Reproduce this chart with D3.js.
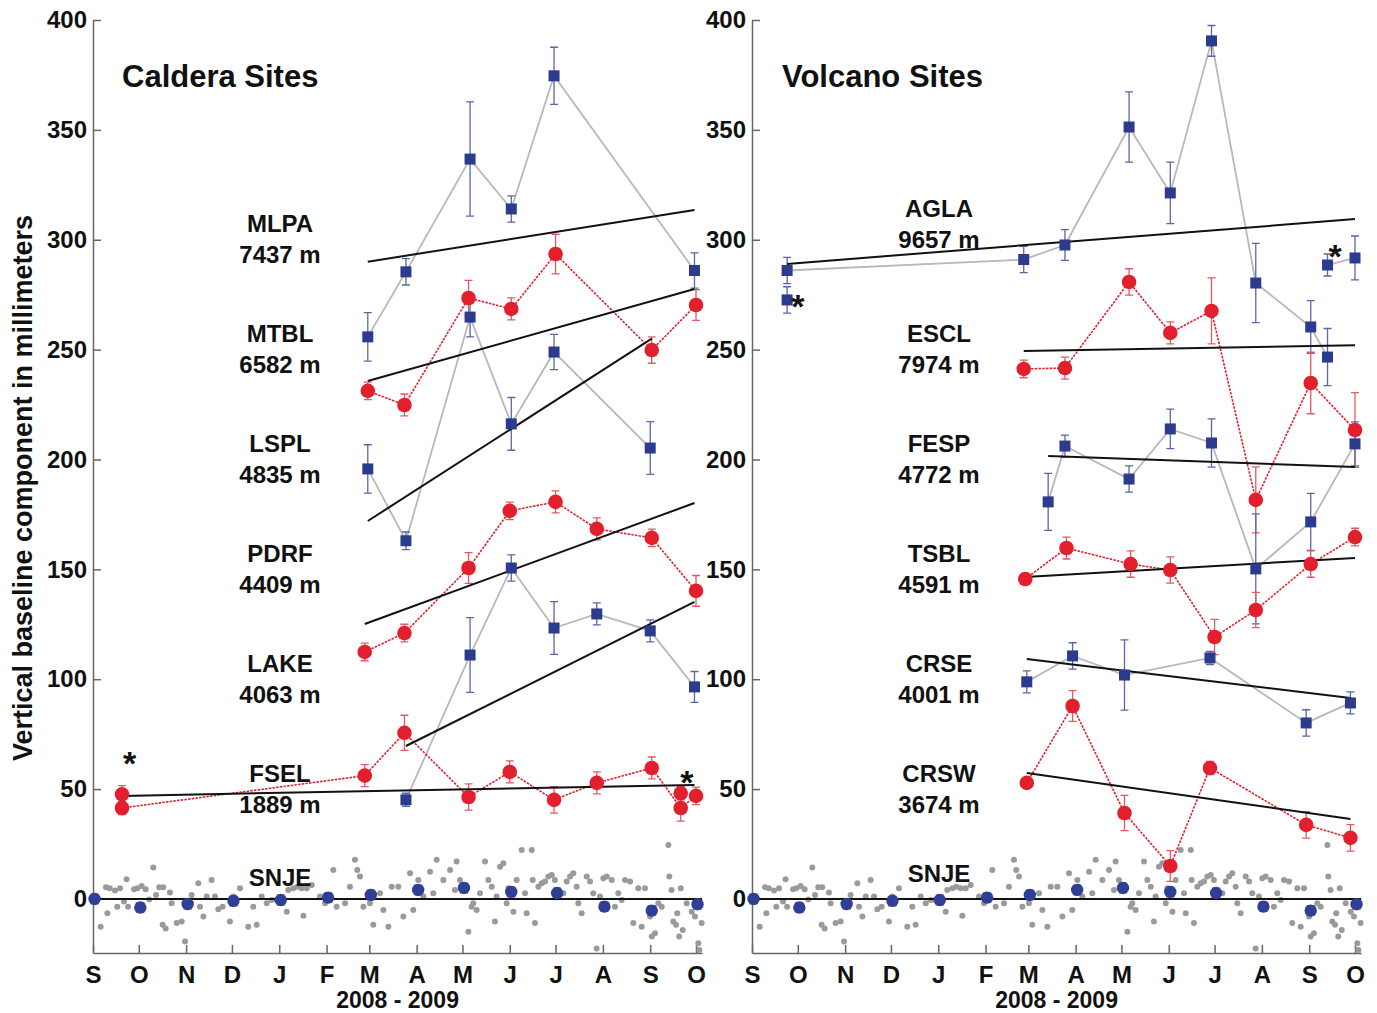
<!DOCTYPE html>
<html>
<head>
<meta charset="utf-8">
<script src="https://cdn.jsdelivr.net/npm/d3@7"></script>
<style>
body { margin: 0; background: #fff; }
text { font-family: "Liberation Sans", Arial, sans-serif; font-weight: bold; fill: #111; }
</style>
</head>
<body>
<script>
var width = 1377, height = 1013;
var parse = d3.timeParse("%Y-%m-%d");

// ---- Caldera sites ----
var mlpaDates = ["2009-02-28","2009-03-25","2009-05-06","2009-06-02","2009-06-30","2009-09-30"];
var mlpaVals  = [255.8, 285.4, 336.7, 314.0, 374.6, 286.0];
var mlpaErrs  = [11, 6, 26, 6, 13, 8];
var mlpaTrend = [["2009-02-28", 290], ["2009-09-30", 313.5]];

var mtblDates = ["2009-02-28","2009-03-24","2009-05-05","2009-06-02","2009-07-01","2009-09-02","2009-10-01"];
var mtblVals  = [231.2, 224.8, 273.5, 268.5, 293.5, 249.8, 270.3];
var mtblErrs  = [4, 5, 8, 5, 9, 6, 7];
var mtblTrend = [["2009-02-28", 235.7], ["2009-09-30", 277.6]];

var lsplDates = ["2009-02-28","2009-03-25","2009-05-06","2009-06-02","2009-06-30","2009-09-01"];
var lsplVals  = [195.7, 163, 264.8, 216.2, 248.9, 205.2];
var lsplErrs  = [11, 4, 9, 12, 8, 12];
var lsplTrend = [["2009-02-28", 172], ["2009-09-02", 255]];

var pdrfDates = ["2009-02-26","2009-03-24","2009-05-05","2009-06-01","2009-07-01","2009-07-28","2009-09-02","2009-10-01"];
var pdrfVals  = [112.4, 121.0, 150.6, 176.6, 180.7, 168.4, 164.3, 140.2];
var pdrfErrs  = [4, 4, 7, 4, 5, 5, 4, 7];
var pdrfTrend = [["2009-02-26", 125.1], ["2009-09-30", 180.2]];

var lakeDates = ["2009-03-25","2009-05-06","2009-06-02","2009-06-30","2009-07-28","2009-09-01","2009-09-30"];
var lakeVals  = [45.1, 111.0, 150.6, 123.3, 129.7, 122.0, 96.5];
var lakeErrs  = [3, 17, 6, 12, 5, 5, 7];
var lakeTrend = [["2009-03-25", 69.6], ["2009-09-30", 135.2]];

var fselDates = ["2008-09-20","2009-02-26","2009-03-24","2009-05-05","2009-06-01","2009-06-30","2009-07-28","2009-09-02","2009-09-21","2009-10-01"];
var fselVals  = [41.4, 56.1, 75.6, 46.4, 57.8, 45.1, 52.8, 59.6, 41.4, 46.9];
var fselErrs  = [3, 5, 8, 6, 5, 6, 5, 5, 6, 4];
var fselTrend = [["2008-09-20", 46.9], ["2009-09-30", 51.9]];
var fselExtraDates = ["2008-09-20","2009-09-21"];
var fselExtraVals  = [47.6, 48.1];
var fselExtraErrs  = [4, 3];

// ---- Volcano sites ----
var aglaDates = ["2008-09-24","2009-02-26","2009-03-25","2009-05-06","2009-06-02","2009-06-29","2009-07-28","2009-09-02","2009-09-13"];
var aglaVals  = [286, 291, 297.6, 351.3, 321.3, 390.5, 280.3, 260.3, 246.6];
var aglaErrs  = [6, 6, 7, 16, 14, 7, 18, 12, 13];
var aglaTrend = [["2008-09-24", 289], ["2009-10-01", 309.4]];
var aglaExtraDates = ["2008-09-24"];
var aglaExtraVals  = [272.6];
var aglaExtraErrs  = [6];
var aglaLateDates = ["2009-09-13","2009-10-01"];
var aglaLateVals  = [288.5, 291.7];
var aglaLateErrs  = [5, 10];

var esclDates = ["2009-02-26","2009-03-25","2009-05-06","2009-06-02","2009-06-29","2009-07-28","2009-09-02","2009-10-01"];
var esclVals  = [241.2, 241.6, 280.8, 257.6, 267.6, 181.6, 234.8, 213.4];
var esclErrs  = [4, 5, 6, 5, 15, 15, 14, 17];
var esclTrend = [["2009-02-26", 249.4], ["2009-10-01", 252]];

var fespDates = ["2009-03-14","2009-03-25","2009-05-06","2009-06-02","2009-06-29","2009-07-28","2009-09-02","2009-10-01"];
var fespVals  = [180.7, 206.1, 191.1, 213.9, 207.5, 150.2, 171.6, 207.1];
var fespErrs  = [13, 5, 6, 9, 11, 25, 13, 10];
var fespTrend = [["2009-03-14", 201.6], ["2009-10-01", 196.6]];

var tsblDates = ["2009-02-27","2009-03-26","2009-05-07","2009-06-02","2009-07-01","2009-07-28","2009-09-02","2009-10-01"];
var tsblVals  = [145.6, 159.7, 152.4, 149.7, 119.2, 131.5, 152.4, 164.7];
var tsblErrs  = [2, 5, 6, 6, 8, 8, 6, 4];
var tsblTrend = [["2009-02-27", 146.5], ["2009-10-01", 155.2]];

var crseDates = ["2009-02-28","2009-03-30","2009-05-03","2009-06-28","2009-08-30","2009-09-28"];
var crseVals  = [98.8, 110.6, 101.9, 109.7, 80.1, 89.2];
var crseErrs  = [5, 6, 16, 3, 6, 5];
var crseTrend = [["2009-02-28", 109.2], ["2009-09-28", 91.5]];

var crswDates = ["2009-02-28","2009-03-30","2009-05-03","2009-06-02","2009-06-28","2009-08-30","2009-09-28"];
var crswVals  = [52.8, 87.8, 39.1, 15.0, 59.6, 33.7, 27.8];
var crswErrs  = [0, 7, 8, 7, 3, 6, 6];
var crswTrend = [["2009-02-28", 57.3], ["2009-09-28", 36.4]];

// ---- SNJE reference site (both panels) ----
var snjeDates = ["2008-09-02","2008-10-02","2008-11-02","2008-12-02","2009-01-02","2009-02-02","2009-03-02","2009-04-02","2009-05-02","2009-06-02","2009-07-02","2009-08-02","2009-09-02","2009-10-02"];
var snjeVals  = [0, -3.9, -2.3, -0.9, -0.5, 0.6, 1.8, 4.1, 5.0, 3.2, 2.7, -3.5, -5.3, -2.4];
// daily solutions: days after 2008-09-01 and value (mm)
var snjeDotDays = [5,8.5,11,9.4,14.4,15.9,17.7,20.3,22,23,26.9,29,31.9,34.5,36.9,39.5,41.3,43.4,46,45.6,47.6,50.4,51.5,54.8,58.1,60.3,61.4,64.6,69,70.1,72.3,74.5,77.7,79.9,82.1,84.9,89.7,91.9,96.3,101.7,105,107.2,110.5,113.8,117.1,120.3,126.9,127.9,131.2,133.8,136.7,137.8,140,143.3,148.7,152,157.4,159.6,165.1,168.3,171.6,173.1,174.9,177.1,181.4,183.6,188,190.2,193.5,195.7,200,203.3,207.7,209.8,213.1,216.4,220.8,222.9,225.1,229.5,233.9,237.1,238.2,240.4,245.9,248,249.1,251.3,253.5,256.8,259,261.2,263.3,264.4,266.6,268.8,271,272.1,275.4,277.5,280.8,283,284.1,287.4,288,289.5,291.7,293.9,296.1,298.3,300.5,302.6,305.9,308.1,310.3,312.5,314.6,316.8,317.9,320.1,323.4,325.6,327.7,329.9,332.1,334.3,336.5,339.8,341.9,344.1,346.3,348.5,351.8,353.9,357.2,359.4,361.6,364.9,366,368.1,370.3,372.5,376.9,377.5,379,380.1,381.9,382.7,384,385,386.3,388.9,392.2,394.3,396.5,397.2,398.7];
var snjeDotVals = [-12.6,5.3,4.9,-6.5,3.8,-3.5,4.9,-1.2,9,-3.5,4.4,4.9,5.9,4.4,-0.2,14.3,1.8,5.3,5.3,-11.8,-13.4,2.9,-2,-11,-10.3,-19.4,-2,1.8,7.1,-3.5,-8,1.1,8.6,1.1,-4.7,-3.5,-10.3,1.1,4.9,-12.6,-3.5,-11.8,1.1,-2,-0.5,-0.5,-5.8,4.1,4.9,5.6,4.9,-7.7,4.9,6.4,1.1,-2,13.2,-3.5,-2,5.6,17.8,13.2,10.2,-3.5,-2,-11.8,2.6,-5,-12.6,5.6,5.6,-8,11.7,-5,8.6,1.1,12.4,2.6,17.8,8.6,13.2,4.1,17,8.6,-14.9,-3.5,-2,-5,2.6,17,8.6,5.6,-10.3,1.1,14.7,16.2,-2,4.9,-5.8,8.6,22.3,2.6,-6.5,22.3,8.6,-11,5.6,7.1,7.9,10.2,10.9,8.6,2.6,2.6,7.9,10.2,11.7,5.6,-2,-6.5,10.2,7.9,2.6,-22.5,1.1,9.4,10.2,8.6,-3.5,2.6,-0.5,8.6,7.9,-11,4.9,-12.6,4.9,-8,-17.1,-15.6,-2,-3.5,24.6,10.2,4.1,-10.3,-11.8,-6.5,-17.1,4.9,-14.1,-2,-5.8,-8,-20.2,-23.2,-11];

var yTicks = [0, 50, 100, 150, 200, 250, 300, 350, 400];

var colBlue = "#2c3b8e", colBlueErr = "#5b66a8", colGrayLine = "#b8b8b8";
var colRed = "#e2202d", colRedErr = "#e45a62";

var svg = d3.select("body").append("svg")
    .attr("width", width)
    .attr("height", height);

var y = d3.scaleLinear().domain([-24.6, 400]).range([953, 20]);
var xStart = parse("2008-09-01"), xEnd = parse("2009-10-05");
var xSpan = 399 * 1.5266;
var months = d3.timeMonth.range(xStart, parse("2009-10-02"));

function site(name, dist, kind, dates, vals, errs, trend) {
    return { name: name, dist: dist, kind: kind, dates: dates, vals: vals, errs: errs, trend: trend };
}

var calderaSites = [
    site("MLPA", "7437 m", "sq", mlpaDates, mlpaVals, mlpaErrs, mlpaTrend),
    site("MTBL", "6582 m", "ci", mtblDates, mtblVals, mtblErrs, mtblTrend),
    site("LSPL", "4835 m", "sq", lsplDates, lsplVals, lsplErrs, lsplTrend),
    site("PDRF", "4409 m", "ci", pdrfDates, pdrfVals, pdrfErrs, pdrfTrend),
    site("LAKE", "4063 m", "sq", lakeDates, lakeVals, lakeErrs, lakeTrend),
    site("FSEL", "1889 m", "ci", fselDates, fselVals, fselErrs, fselTrend)
];
var volcanoSites = [
    site("AGLA", "9657 m", "sq", aglaDates, aglaVals, aglaErrs, aglaTrend),
    site("ESCL", "7974 m", "ci", esclDates, esclVals, esclErrs, esclTrend),
    site("FESP", "4772 m", "sq", fespDates, fespVals, fespErrs, fespTrend),
    site("TSBL", "4591 m", "ci", tsblDates, tsblVals, tsblErrs, tsblTrend),
    site("CRSE", "4001 m", "sq", crseDates, crseVals, crseErrs, crseTrend),
    site("CRSW", "3674 m", "ci", crswDates, crswVals, crswErrs, crswTrend)
];

// extra (asterisk) occupations
var calderaExtras = [
    { kind: "ci", connect: false, dates: fselExtraDates, vals: fselExtraVals, errs: fselExtraErrs }
];
var volcanoExtras = [
    { kind: "sq", connect: false, dates: aglaExtraDates, vals: aglaExtraVals, errs: aglaExtraErrs },
    { kind: "sq", connect: true, dates: aglaLateDates, vals: aglaLateVals, errs: aglaLateErrs }
];
var calderaStars = [["2008-09-25", 65.5], ["2009-09-25", 56.9]];
var volcanoStars = [["2008-10-01", 273.5], ["2009-09-18", 296.2]];

function toPts(s) {
    return s.dates.map(function (d, i) {
        return { date: parse(d), v: s.vals[i], e: s.errs ? s.errs[i] : 0 };
    });
}

function drawPanel(opt) {
    var x = d3.scaleTime().domain([xStart, xEnd]).range([opt.x0, opt.x0 + xSpan]);
    var g = svg.append("g");

    // axes
    var yAxis = g.append("g")
        .attr("transform", "translate(" + opt.x0 + ",0)")
        .call(d3.axisLeft(y).tickValues(yTicks).tickSizeInner(-8).tickSizeOuter(0).tickPadding(6));
    var xAxis = g.append("g")
        .attr("transform", "translate(0," + y.range()[0] + ")")
        .call(d3.axisBottom(x).tickValues(months)
            .tickFormat(function (d) { return d3.timeFormat("%b")(d).charAt(0); })
            .tickSizeInner(-8).tickSizeOuter(0).tickPadding(13));
    [yAxis, xAxis].forEach(function (a) {
        a.select(".domain").attr("stroke", "#666").attr("stroke-width", 1.5);
        a.selectAll(".tick line").attr("stroke", "#666").attr("stroke-width", 1.5);
        a.selectAll(".tick text").attr("fill", "#111").style("font-size", "24px")
            .style("font-family", "'Liberation Sans', Arial, sans-serif").style("font-weight", "bold");
    });

    g.append("text")
        .attr("x", opt.x0 + xSpan / 2)
        .attr("y", 1008)
        .attr("text-anchor", "middle")
        .style("font-size", "23px")
        .text("2008 - 2009");

    g.append("text")
        .attr("x", opt.titleX)
        .attr("y", 87)
        .style("font-size", "31px")
        .text(opt.title);

    // SNJE daily solutions
    g.append("g").selectAll("circle")
        .data(snjeDotDays.map(function (d, i) { return [d, snjeDotVals[i]]; }))
        .enter().append("circle")
        .attr("cx", function (d) { return x(new Date(xStart.getTime() + d[0] * 864e5)); })
        .attr("cy", function (d) { return y(d[1]); })
        .attr("r", 3)
        .attr("fill", "#9a9a9a");

    // site labels
    opt.sites.forEach(function (s, i) {
        var lvl = y(300 - 50 * i) + (i === 0 ? opt.firstShift : 0);
        g.append("text").attr("x", opt.labelX).attr("y", lvl - 7.5)
            .attr("text-anchor", "middle").style("font-size", "24px").text(s.name);
        g.append("text").attr("x", opt.labelX).attr("y", lvl + 23.5)
            .attr("text-anchor", "middle").style("font-size", "24px").text(s.dist);
    });
    g.append("text").attr("x", opt.labelX).attr("y", y(0) + opt.snjeShift)
        .attr("text-anchor", "middle").style("font-size", "24px").text("SNJE");

    var gLines = g.append("g"), gErr = g.append("g"), gTrend = g.append("g"), gMarks = g.append("g");
    var line = d3.line().x(function (d) { return x(d.date); }).y(function (d) { return y(d.v); });

    function drawErr(p, col) {
        var cx = x(p.date);
        gErr.append("path")
            .attr("d", "M" + cx + "," + y(p.v - p.e) + "V" + y(p.v + p.e) +
                "M" + (cx - 4) + "," + y(p.v - p.e) + "h8" +
                "M" + (cx - 4) + "," + y(p.v + p.e) + "h8")
            .attr("stroke", col).attr("stroke-width", 1.3).attr("fill", "none");
    }
    function drawMark(p, kind) {
        if (kind === "sq") {
            gMarks.append("rect")
                .attr("x", x(p.date) - 5.5).attr("y", y(p.v) - 5.5)
                .attr("width", 11).attr("height", 11)
                .attr("fill", colBlue);
        } else {
            gMarks.append("circle")
                .attr("cx", x(p.date)).attr("cy", y(p.v)).attr("r", 7.3)
                .attr("fill", colRed);
        }
    }
    function drawSeries(s, connect) {
        var pts = toPts(s);
        if (connect) {
            gLines.append("path").datum(pts).attr("d", line).attr("fill", "none")
                .attr("stroke", s.kind === "sq" ? colGrayLine : colRed)
                .attr("stroke-width", s.kind === "sq" ? 1.8 : 1.6)
                .attr("stroke-dasharray", s.kind === "sq" ? null : "2.5,1.2");
        }
        pts.forEach(function (p) {
            if (p.e > 0) drawErr(p, s.kind === "sq" ? colBlueErr : colRedErr);
            drawMark(p, s.kind);
        });
    }

    opt.sites.forEach(function (s) {
        drawSeries(s, true);
        gTrend.append("line")
            .attr("x1", x(parse(s.trend[0][0]))).attr("y1", y(s.trend[0][1]))
            .attr("x2", x(parse(s.trend[1][0]))).attr("y2", y(s.trend[1][1]))
            .attr("stroke", "#111").attr("stroke-width", 2);
    });
    opt.extras.forEach(function (s) { drawSeries(s, s.connect); });

    // SNJE reference line and monthly solutions
    gTrend.append("line")
        .attr("x1", x(xStart)).attr("x2", x(xEnd))
        .attr("y1", y(0)).attr("y2", y(0))
        .attr("stroke", "#111").attr("stroke-width", 2);
    snjeDates.forEach(function (d, i) {
        var p = { date: parse(d), v: snjeVals[i], e: 2.2 };
        drawErr(p, colBlueErr);
        gMarks.append("circle")
            .attr("cx", x(p.date)).attr("cy", y(p.v)).attr("r", 6.2)
            .attr("fill", "#2f3f95");
    });

    opt.stars.forEach(function (st) {
        g.append("text")
            .attr("x", x(parse(st[0]))).attr("y", y(st[1]))
            .attr("dy", "0.6em")
            .attr("text-anchor", "middle")
            .style("font-size", "34px")
            .text("*");
    });
}

drawPanel({ x0: 93, title: "Caldera Sites", titleX: 122, labelX: 280, firstShift: 0, snjeShift: -13,
    sites: calderaSites, extras: calderaExtras, stars: calderaStars });
drawPanel({ x0: 752, title: "Volcano Sites", titleX: 782, labelX: 939, firstShift: -15, snjeShift: -17,
    sites: volcanoSites, extras: volcanoExtras, stars: volcanoStars });

svg.append("text")
    .attr("transform", "translate(32,488) rotate(-90)")
    .attr("text-anchor", "middle")
    .style("font-size", "27px")
    .text("Vertical baseline component in millimeters");
</script>
</body>
</html>
